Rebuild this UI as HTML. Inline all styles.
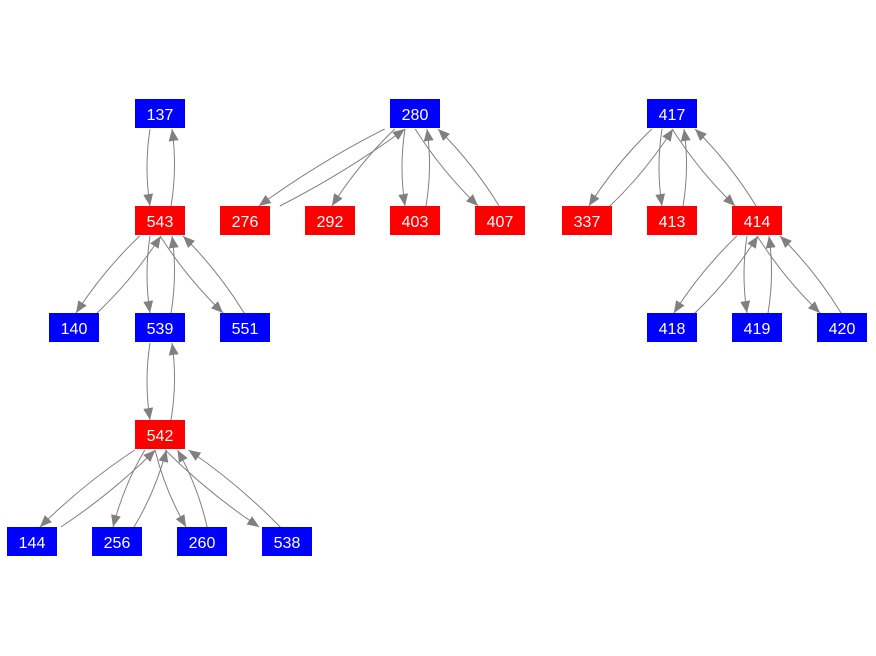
<!DOCTYPE html>
<html><head><style>
html,body{margin:0;padding:0;background:#fff;}
svg{display:block;}
text{font-family:"Liberation Sans",sans-serif;font-size:16px;fill:#fff;}
</style></head><body>
<svg id="s" width="876" height="656" viewBox="0 0 876 656" xmlns="http://www.w3.org/2000/svg">
<defs><marker id="a" markerWidth="12" markerHeight="10" refX="12" refY="5" orient="auto" markerUnits="userSpaceOnUse"><path d="M0,0 L12,5 L0,10 Z" fill="#808080"/></marker></defs>
<g id="e" fill="none" stroke="#808080" stroke-width="1"></g>
<g id="n"></g>
</svg>
<script>
var N={137:[160,114,'b'],543:[160,221,'r'],276:[245,221,'r'],140:[74,328,'b'],539:[160,328,'b'],551:[245,328,'b'],
542:[160,435,'r'],144:[32,542,'b'],256:[117,542,'b'],260:[202,542,'b'],538:[287,542,'b'],
280:[415,114,'b'],292:[330,221,'r'],403:[415,221,'r'],407:[500,221,'r'],
417:[672,114,'b'],337:[587,221,'r'],413:[672,221,'r'],414:[757,221,'r'],
418:[672,328,'b'],419:[757,328,'b'],420:[842,328,'b']};
var E=[[137,543,1],[543,140,1],[543,539,1],[543,551,1],[539,542,1],[542,144,1],[542,256,1],[542,260,1],[542,538,1],
[280,276,1],[280,292,0],[280,403,1],[280,407,1],[417,337,1],[417,413,1],[417,414,1],[414,418,1],[414,419,1],[414,420,1]];
var eg=document.getElementById('e'),ng=document.getElementById('n'),NS='http://www.w3.org/2000/svg';
function curve(x1,y1,x2,y2,b){var dx=x2-x1,dy=y2-y1,L=Math.hypot(dx,dy),ux=dx/L,uy=dy/L;
var cx=(x1+x2)/2+(-uy)*b,cy=(y1+y2)/2+ux*b;var p=document.createElementNS(NS,'path');
p.setAttribute('d','M'+x1+','+y1+' Q'+cx+','+cy+' '+x2+','+y2);p.setAttribute('marker-end','url(#a)');eg.appendChild(p);}
E.forEach(function(e){var P=N[e[0]],C=N[e[1]],dx=C[0]-P[0];var pb=P[1]+15,ct=C[1]-15;
curve(P[0]-10+dx*0.12,pb,C[0]-10-dx*0.14,ct,6);
if(e[2])curve(C[0]+11-dx*0.14,ct,P[0]+12+dx*0.13,pb,6);});
for(var k in N){var v=N[k];var r=document.createElementNS(NS,'rect');r.setAttribute('x',v[0]-25);r.setAttribute('y',v[1]-15);
r.setAttribute('width',50);r.setAttribute('height',29);r.setAttribute('fill',v[2]=='b'?'#0000ff':'#ff0000');ng.appendChild(r);
var t=document.createElementNS(NS,'text');t.setAttribute('x',v[0]);t.setAttribute('y',v[1]+6);t.setAttribute('text-anchor','middle');t.textContent=k;ng.appendChild(t);}
</script>
</body></html>
